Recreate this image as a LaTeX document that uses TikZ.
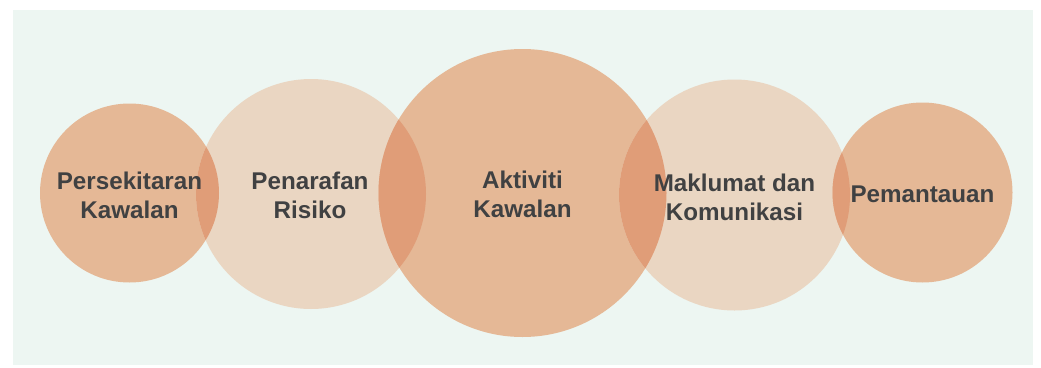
\documentclass[tikz,border=0pt]{standalone}
\usepackage{fontspec}
\setmainfont{Liberation Sans}
\definecolor{panel}{HTML}{EDF6F2}
\definecolor{ringdark}{HTML}{E5B896}
\definecolor{ringlight}{HTML}{EAD6C2}
\definecolor{lens}{HTML}{E09D78}
\definecolor{labeltext}{HTML}{404142}
\tikzset{
  stage/.style={circle, inner sep=0pt, minimum size=#1},
  label/.style={font=\bfseries\fontsize{24.2}{29}\selectfont, text=labeltext, align=center},
}
\begin{document}
\begin{tikzpicture}[x=1pt,y=-1pt]
  \useasboundingbox (0,0) rectangle (1041,367);
  % panel
  \fill[panel] (13,10) rectangle (1033,365);

  % the five components
  \def\cA{(129.5,193)}\def\rA{89.5}
  \def\cB{(311,194)}\def\rB{115}
  \def\cC{(522.5,193)}\def\rC{144}
  \def\cD{(734.5,195)}\def\rD{115.5}
  \def\cE{(922.5,192.5)}\def\rE{90}

  \fill[ringdark]  \cA circle[radius=\rA];
  \fill[ringlight] \cB circle[radius=\rB];
  \fill[ringdark]  \cC circle[radius=\rC];
  \fill[ringlight] \cD circle[radius=\rD];
  \fill[ringdark]  \cE circle[radius=\rE];

  % overlaps of neighbouring circles
  \begin{scope}\clip \cA circle[radius=\rA]; \fill[lens] \cB circle[radius=\rB];\end{scope}
  \begin{scope}\clip \cB circle[radius=\rB]; \fill[lens] \cC circle[radius=\rC];\end{scope}
  \begin{scope}\clip \cC circle[radius=\rC]; \fill[lens] \cD circle[radius=\rD];\end{scope}
  \begin{scope}\clip \cD circle[radius=\rD]; \fill[lens] \cE circle[radius=\rE];\end{scope}

  % named stage nodes carrying the labels
  \node[stage=179pt, label] (pk) at (129.5,195) {Persekitaran\\Kawalan};
  \node[stage=230pt, label] (pr) at (310,195) {Penarafan\\Risiko};
  \node[stage=288pt, label] (ak) at (522.5,194) {Aktiviti\\Kawalan};
  \node[stage=231pt, label] (mk) at (734.5,197) {Maklumat dan\\Komunikasi};
  \node[stage=180pt, label] (pm) at (922.5,194) {Pemantauan};
\end{tikzpicture}
\end{document}
